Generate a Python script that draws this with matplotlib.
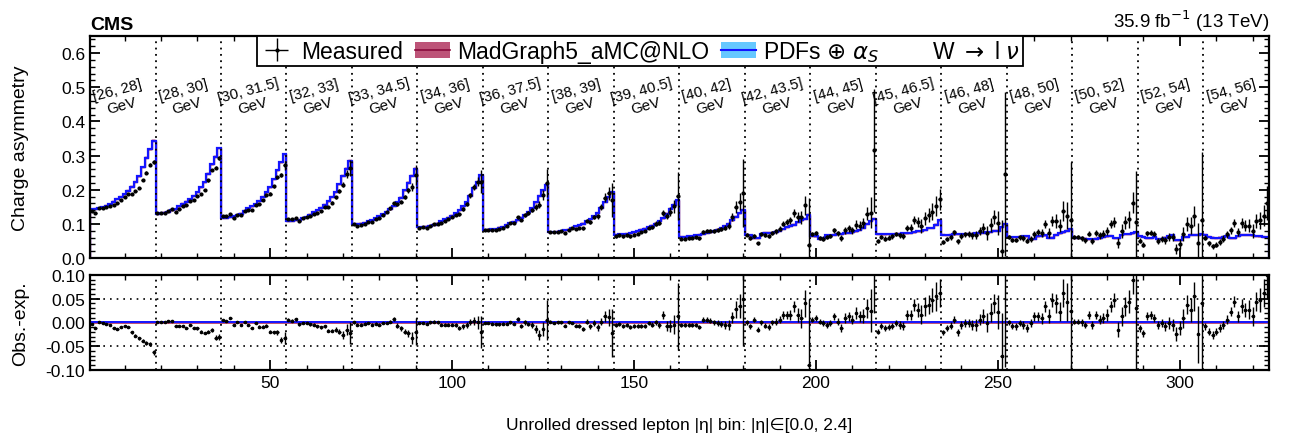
import numpy as np
import matplotlib
matplotlib.use("Agg")
import matplotlib.pyplot as plt
from matplotlib.patches import Patch
from matplotlib.lines import Line2D
from matplotlib.ticker import MultipleLocator

plt.rcParams['font.family'] = ['Liberation Sans', 'DejaVu Sans']
plt.rcParams['mathtext.fontset'] = 'dejavusans'
plt.rcParams['axes.unicode_minus'] = True

# pT bins (one block of 18 |eta| bins each)
pt_bins = ["[26, 28]", "[28, 30]", "[30, 31.5]", "[32, 33]", "[33, 34.5]", "[34, 36]",
           "[36, 37.5]", "[38, 39]", "[39, 40.5]", "[40, 42]", "[42, 43.5]", "[44, 45]",
           "[45, 46.5]", "[46, 48]", "[48, 50]", "[50, 52]", "[52, 54]", "[54, 56]"]

# expected charge asymmetry (PDFs + alpha_s prediction), per pT block
prediction = [
    [0.143, 0.144, 0.146, 0.148, 0.153, 0.157, 0.165, 0.173, 0.179, 0.187, 0.197, 0.209, 0.223, 0.239, 0.266, 0.294, 0.318, 0.344],
    [0.130, 0.131, 0.133, 0.135, 0.140, 0.143, 0.151, 0.159, 0.165, 0.172, 0.182, 0.193, 0.207, 0.222, 0.247, 0.274, 0.297, 0.322],
    [0.117, 0.118, 0.120, 0.122, 0.126, 0.130, 0.138, 0.145, 0.151, 0.158, 0.167, 0.179, 0.192, 0.207, 0.231, 0.257, 0.280, 0.304],
    [0.108, 0.109, 0.111, 0.112, 0.117, 0.120, 0.127, 0.135, 0.140, 0.147, 0.156, 0.166, 0.179, 0.193, 0.216, 0.241, 0.262, 0.285],
    [0.099, 0.100, 0.101, 0.103, 0.107, 0.110, 0.117, 0.123, 0.128, 0.135, 0.143, 0.153, 0.164, 0.177, 0.198, 0.221, 0.241, 0.262],
    [0.090, 0.091, 0.092, 0.094, 0.098, 0.101, 0.107, 0.113, 0.118, 0.124, 0.131, 0.140, 0.151, 0.163, 0.183, 0.205, 0.223, 0.243],
    [0.082, 0.083, 0.084, 0.085, 0.089, 0.091, 0.097, 0.102, 0.106, 0.111, 0.118, 0.126, 0.135, 0.146, 0.163, 0.182, 0.198, 0.215],
    [0.075, 0.076, 0.077, 0.078, 0.081, 0.083, 0.088, 0.093, 0.096, 0.101, 0.107, 0.114, 0.122, 0.132, 0.147, 0.164, 0.178, 0.193],
    [0.068, 0.069, 0.070, 0.071, 0.073, 0.075, 0.079, 0.083, 0.086, 0.090, 0.095, 0.101, 0.108, 0.116, 0.130, 0.144, 0.156, 0.169],
    [0.062, 0.062, 0.063, 0.064, 0.066, 0.068, 0.071, 0.074, 0.076, 0.079, 0.083, 0.088, 0.094, 0.100, 0.110, 0.121, 0.131, 0.141],
    [0.068, 0.066, 0.058, 0.058, 0.070, 0.074, 0.074, 0.074, 0.076, 0.080, 0.085, 0.090, 0.095, 0.098, 0.105, 0.110, 0.115, 0.127],
    [0.064, 0.063, 0.056, 0.058, 0.066, 0.066, 0.068, 0.070, 0.070, 0.072, 0.074, 0.075, 0.078, 0.082, 0.088, 0.100, 0.108, 0.115],
    [0.070, 0.069, 0.069, 0.070, 0.070, 0.071, 0.071, 0.072, 0.072, 0.073, 0.075, 0.078, 0.078, 0.082, 0.088, 0.088, 0.098, 0.110],
    [0.068, 0.067, 0.068, 0.069, 0.070, 0.070, 0.070, 0.071, 0.071, 0.072, 0.072, 0.074, 0.075, 0.076, 0.080, 0.080, 0.090, 0.100],
    [0.062, 0.061, 0.061, 0.062, 0.063, 0.063, 0.056, 0.056, 0.063, 0.065, 0.066, 0.060, 0.060, 0.068, 0.072, 0.075, 0.080, 0.085],
    [0.060, 0.060, 0.058, 0.057, 0.055, 0.055, 0.057, 0.060, 0.062, 0.063, 0.065, 0.058, 0.058, 0.067, 0.070, 0.070, 0.072, 0.075],
    [0.063, 0.062, 0.058, 0.058, 0.062, 0.056, 0.056, 0.060, 0.063, 0.066, 0.052, 0.052, 0.062, 0.062, 0.068, 0.068, 0.068, 0.070],
    [0.068, 0.062, 0.060, 0.058, 0.060, 0.062, 0.064, 0.058, 0.058, 0.064, 0.068, 0.068, 0.068, 0.066, 0.064, 0.063, 0.062, 0.061],
]

# observed - expected, per pT block
residual = [
    [-0.004, -0.012, 0.000, -0.002, -0.003, -0.005, -0.011, -0.013, -0.010, -0.008, -0.009, -0.021, -0.028, -0.033, -0.038, -0.044, -0.045, -0.063],
    [0.001, 0.000, 0.000, 0.003, 0.003, -0.007, -0.008, -0.007, -0.011, -0.006, -0.012, -0.012, -0.019, -0.022, -0.019, -0.016, -0.032, -0.030],
    [0.006, 0.004, 0.009, -0.005, 0.000, -0.005, 0.000, -0.005, -0.011, -0.002, -0.009, -0.009, -0.007, -0.019, -0.021, -0.021, -0.037, -0.033],
    [0.006, 0.004, 0.007, -0.004, -0.001, -0.001, -0.004, -0.005, -0.008, -0.010, -0.008, -0.017, -0.017, -0.015, -0.019, -0.026, -0.015, -0.022],
    [0.000, -0.005, -0.005, -0.003, -0.001, -0.005, -0.003, -0.005, -0.001, -0.001, 0.002, 0.007, -0.007, -0.012, -0.019, -0.023, -0.033, -0.019],
    [-0.001, -0.001, -0.003, 0.000, 0.002, 0.000, -0.005, -0.005, -0.005, -0.005, -0.005, -0.012, -0.008, -0.005, 0.001, 0.003, 0.000, -0.020],
    [-0.001, -0.001, -0.003, -0.004, -0.004, -0.003, -0.003, 0.000, -0.003, 0.008, -0.007, 0.000, -0.003, -0.005, -0.014, -0.026, -0.014, 0.005],
    [0.002, -0.001, 0.000, 0.000, -0.007, 0.000, -0.001, -0.007, -0.008, -0.014, 0.002, -0.008, -0.001, -0.010, 0.002, 0.013, 0.011, -0.022],
    [-0.005, -0.003, -0.007, -0.005, -0.010, -0.007, -0.008, -0.007, -0.007, -0.001, -0.005, 0.000, -0.005, 0.016, -0.007, -0.008, -0.005, 0.013],
    [-0.005, -0.005, -0.005, -0.005, -0.005, -0.010, 0.006, 0.006, 0.004, 0.000, -0.001, -0.003, -0.005, -0.005, 0.011, 0.028, 0.034, 0.050],
    [0.000, -0.008, 0.006, -0.015, 0.000, -0.007, -0.010, 0.000, 0.002, 0.006, 0.016, 0.016, 0.016, 0.034, 0.016, 0.009, 0.040, -0.090],
    [0.006, 0.009, 0.002, -0.001, -0.005, -0.001, 0.013, 0.002, -0.012, 0.009, 0.013, 0.006, 0.020, 0.013, 0.014, 0.030, 0.025, 0.200],
    [-0.019, -0.008, -0.012, -0.010, -0.007, -0.001, -0.005, -0.008, 0.016, 0.016, 0.037, 0.027, 0.016, 0.034, 0.037, 0.048, 0.055, 0.062],
    [-0.021, -0.012, -0.007, 0.006, -0.021, -0.005, -0.001, -0.001, -0.005, -0.005, 0.006, 0.013, -0.001, 0.020, 0.040, 0.022, -0.070, 0.147],
    [0.000, -0.008, -0.008, -0.001, -0.005, -0.012, -0.001, 0.013, 0.013, 0.009, 0.034, 0.013, 0.048, 0.041, 0.023, 0.062, 0.044, 0.025],
    [0.002, 0.002, 0.000, -0.005, 0.016, -0.005, 0.016, 0.006, 0.009, 0.016, 0.034, 0.048, -0.015, 0.013, 0.034, 0.044, 0.090, 0.030],
    [-0.012, -0.023, 0.014, 0.016, 0.009, -0.005, -0.001, -0.008, -0.001, -0.005, -0.025, -0.012, 0.009, 0.037, 0.027, 0.055, -0.025, 0.040],
    [-0.008, -0.019, -0.026, -0.019, -0.012, -0.005, 0.006, 0.023, 0.044, 0.013, 0.034, 0.027, 0.027, 0.013, 0.044, 0.048, 0.062, 0.100],
]

# measurement uncertainty, per pT block
uncertainty = [
    [0.002, 0.002, 0.002, 0.002, 0.002, 0.002, 0.002, 0.002, 0.002, 0.002, 0.002, 0.003, 0.003, 0.003, 0.003, 0.004, 0.004, 0.005],
    [0.002, 0.002, 0.002, 0.002, 0.002, 0.002, 0.002, 0.002, 0.002, 0.002, 0.002, 0.003, 0.003, 0.003, 0.004, 0.004, 0.005, 0.006],
    [0.002, 0.002, 0.002, 0.002, 0.002, 0.002, 0.002, 0.002, 0.002, 0.002, 0.003, 0.003, 0.003, 0.004, 0.004, 0.005, 0.007, 0.012],
    [0.003, 0.003, 0.003, 0.003, 0.003, 0.003, 0.003, 0.003, 0.003, 0.003, 0.003, 0.004, 0.004, 0.005, 0.006, 0.008, 0.012, 0.023],
    [0.003, 0.003, 0.003, 0.003, 0.003, 0.003, 0.003, 0.003, 0.003, 0.003, 0.004, 0.004, 0.005, 0.005, 0.006, 0.008, 0.012, 0.028],
    [0.003, 0.003, 0.003, 0.003, 0.003, 0.003, 0.003, 0.003, 0.003, 0.003, 0.004, 0.004, 0.005, 0.006, 0.007, 0.009, 0.013, 0.034],
    [0.003, 0.003, 0.003, 0.003, 0.003, 0.003, 0.003, 0.003, 0.003, 0.004, 0.004, 0.005, 0.005, 0.006, 0.008, 0.010, 0.015, 0.042],
    [0.003, 0.003, 0.003, 0.003, 0.003, 0.003, 0.003, 0.003, 0.004, 0.004, 0.005, 0.005, 0.006, 0.007, 0.008, 0.012, 0.018, 0.050],
    [0.004, 0.004, 0.004, 0.004, 0.004, 0.004, 0.004, 0.004, 0.004, 0.005, 0.005, 0.006, 0.007, 0.008, 0.010, 0.013, 0.020, 0.070],
    [0.004, 0.004, 0.004, 0.004, 0.004, 0.004, 0.005, 0.005, 0.005, 0.006, 0.006, 0.007, 0.008, 0.010, 0.012, 0.018, 0.025, 0.100],
    [0.005, 0.005, 0.005, 0.005, 0.005, 0.005, 0.006, 0.006, 0.007, 0.007, 0.008, 0.009, 0.010, 0.012, 0.015, 0.020, 0.028, 0.140],
    [0.006, 0.006, 0.006, 0.006, 0.006, 0.006, 0.008, 0.008, 0.008, 0.010, 0.010, 0.010, 0.012, 0.012, 0.015, 0.020, 0.045, 0.180],
    [0.006, 0.006, 0.006, 0.006, 0.006, 0.006, 0.008, 0.008, 0.010, 0.010, 0.012, 0.015, 0.020, 0.020, 0.020, 0.025, 0.030, 0.030],
    [0.006, 0.006, 0.007, 0.007, 0.007, 0.008, 0.008, 0.009, 0.010, 0.012, 0.012, 0.015, 0.020, 0.020, 0.020, 0.035, 0.090, 0.240],
    [0.006, 0.006, 0.007, 0.007, 0.008, 0.008, 0.009, 0.010, 0.010, 0.012, 0.012, 0.015, 0.015, 0.020, 0.020, 0.030, 0.040, 0.170],
    [0.006, 0.006, 0.007, 0.007, 0.008, 0.008, 0.009, 0.010, 0.010, 0.012, 0.012, 0.015, 0.015, 0.020, 0.020, 0.025, 0.030, 0.150],
    [0.007, 0.007, 0.008, 0.008, 0.008, 0.009, 0.009, 0.010, 0.012, 0.012, 0.015, 0.015, 0.020, 0.020, 0.025, 0.030, 0.060, 0.200],
    [0.007, 0.007, 0.008, 0.008, 0.009, 0.009, 0.010, 0.010, 0.012, 0.012, 0.015, 0.015, 0.020, 0.020, 0.020, 0.025, 0.030, 0.050],
]

n_eta = 18
pred = np.concatenate(prediction)
diff = np.concatenate(residual)
err = np.concatenate(uncertainty)
meas = pred + diff
nbins = len(pred)
x = np.arange(1, nbins + 1)
edges = np.arange(0.5, nbins + 1)

mg_fill = "#bd5478"
mg_line = "#8a0b3c"
pdf_fill = "#66c8ff"
pdf_line = "#1414ff"

fig = plt.figure(figsize=(12.95, 4.39), dpi=100)
ax1 = fig.add_axes([0.0695, 0.410, 0.9104, 0.5057])
ax2 = fig.add_axes([0.0695, 0.1549, 0.9104, 0.2164])

# upper panel
ax1.stairs(pred + 0.003, edges, baseline=pred - 0.003, fill=True, color=mg_fill, lw=0)
ax1.stairs(pred, edges, color=mg_line, lw=1.0)
ax1.stairs(pred + 0.0015, edges, baseline=pred - 0.0015, fill=True, color=pdf_fill, lw=0)
ax1.stairs(pred, edges, color=pdf_line, lw=1.6)
meas_h = ax1.errorbar(x, meas, yerr=err, xerr=0.4, fmt="o", ms=2.0, color="black",
                      elinewidth=1.0, capsize=0, zorder=5)

# lower panel
ax2.axhspan(-0.0025, 0.0025, color=mg_fill, lw=0)
ax2.axhspan(-0.0018, 0.0018, color=pdf_fill, lw=0)
ax2.axhline(0, color=pdf_line, lw=1.4)
ax2.errorbar(x, diff, yerr=err, xerr=0.4, fmt="o", ms=1.6, color="black",
             elinewidth=1.0, capsize=0, zorder=5)
for yy in (-0.05, 0.05):
    ax2.axhline(yy, color="black", ls=(0, (1, 3)), lw=1.2)

for ax in (ax1, ax2):
    for k in range(1, len(pt_bins)):
        ax.axvline(k * n_eta + 0.5, color="black", ls=(0, (1, 2.5)), lw=1.3)
    ax.set_xlim(0.5, nbins + 0.5)
    ax.xaxis.set_major_locator(MultipleLocator(50))
    ax.xaxis.set_minor_locator(MultipleLocator(10))
    ax.tick_params(which="both", direction="in", top=True, right=True, labelsize=12.5)
    ax.tick_params(which="major", length=7, width=1.3)
    ax.tick_params(which="minor", length=3.5, width=1.0)
    for s in ax.spines.values():
        s.set_linewidth(1.6)

ax1.set_ylim(0, 0.65)
ax1.yaxis.set_major_locator(MultipleLocator(0.1))
ax1.yaxis.set_minor_locator(MultipleLocator(0.02))
ax1.yaxis.set_major_formatter(plt.FormatStrFormatter("%.1f"))
ax1.tick_params(labelbottom=False)
ax1.set_ylabel("Charge asymmetry", fontsize=14)
ax1.yaxis.set_label_coords(-0.052, 0.5)

ax2.set_ylim(-0.1, 0.1)
ax2.yaxis.set_major_locator(MultipleLocator(0.05))
ax2.yaxis.set_minor_locator(MultipleLocator(0.01))
ax2.yaxis.set_major_formatter(plt.FormatStrFormatter("%.2f"))
ax2.set_ylabel("Obs.-exp.", fontsize=14)
ax2.yaxis.set_label_coords(-0.052, 0.5)
ax2.set_xlabel("Unrolled dressed lepton |η| bin: |η|∈[0.0, 2.4]", fontsize=12.5)
ax2.xaxis.set_label_coords(0.5, -0.5)

# pT bin labels
for k, lab in enumerate(pt_bins):
    ax1.text(k * n_eta + 8.6, 0.47, lab + "\nGeV", rotation=15, ha="center", va="center",
             multialignment="center", fontsize=10.8, linespacing=1.1)

ax1.text(0.0, 1.015, "CMS", transform=ax1.transAxes, fontsize=14, weight="bold",
         ha="left", va="bottom")
ax1.text(1.0, 1.015, "35.9 fb$^{-1}$ (13 TeV)", transform=ax1.transAxes, fontsize=13.5,
         ha="right", va="bottom")

handles = [meas_h,
           (Patch(facecolor=mg_fill, edgecolor="none"), Line2D([], [], color=mg_line, lw=1.2)),
           (Patch(facecolor=pdf_fill, edgecolor="none"), Line2D([], [], color=pdf_line, lw=1.5)),
           Line2D([], [], color="none")]
labels = ["Measured", "MadGraph5_aMC@NLO", r"PDFs $\oplus$ $\alpha_S$", r"W $\rightarrow$ l $\nu$"]
leg = ax1.legend(handles, labels, ncol=4, loc="upper left", bbox_to_anchor=(0.1416, 1.0),
                 fontsize=16.5, frameon=True, fancybox=False, borderaxespad=0,
                 handlelength=1.5, handletextpad=0.3, columnspacing=0.55,
                 borderpad=0.12, framealpha=1)
leg.get_frame().set_edgecolor("black")
leg.get_frame().set_linewidth(1.3)

fig.savefig("out.png", dpi=100)
